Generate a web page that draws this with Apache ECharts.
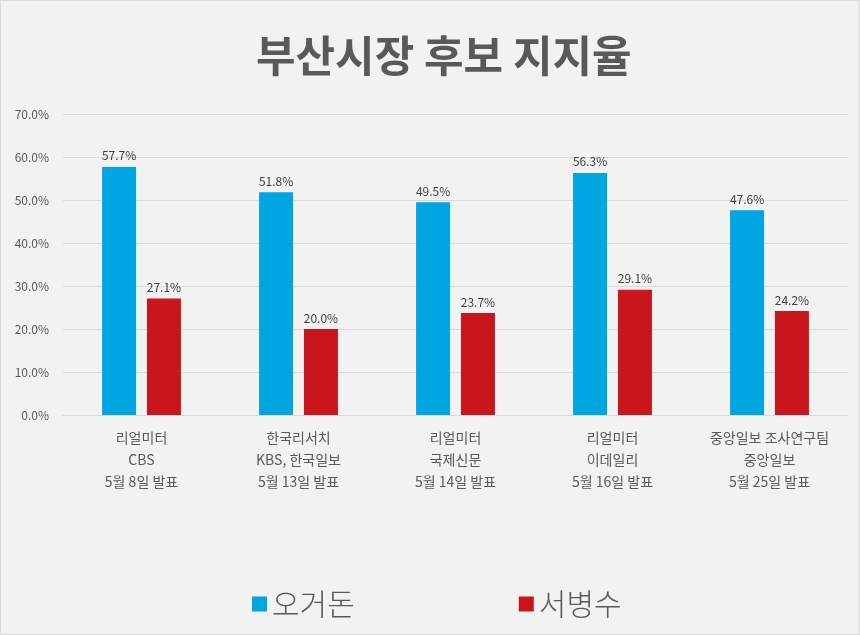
<!DOCTYPE html>
<html>
<head>
<meta charset="utf-8">
<script src="https://cdn.jsdelivr.net/npm/echarts@6/dist/echarts.min.js"></script>
<style>
  html, body { margin: 0; padding: 0; background: #f2f2f2; }
  #chart { width: 858px; height: 633px; border: 1px solid #d9d9d9; }
</style>
</head>
<body>
<div id="chart"></div>
<script>
const categories = [
    '리얼미터\nCBS\n5월 8일 발표',
    '한국리서치\nKBS, 한국일보\n5월 13일 발표',
    '리얼미터\n국제신문\n5월 14일 발표',
    '리얼미터\n이데일리\n5월 16일 발표',
    '중앙일보 조사연구팀\n중앙일보\n5월 25일 발표'
];
const ohGeodon = [57.7, 51.8, 49.5, 56.3, 47.6];
const seoByeongsu = [27.1, 20.0, 23.7, 29.1, 24.2];

const font = '"Noto Sans CJK KR", "Noto Sans", sans-serif';

let myChart = echarts.init(document.getElementById('chart'));
const option = {
    backgroundColor: '#f2f2f2',
    animation: false,
    title: {
        text: '부산시장 후보 지지율',
        left: 250,
        top: 28,
        textStyle: {
            color: '#595959',
            fontSize: 43,
            fontWeight: 'bold',
            fontFamily: font
        }
    },
    legend: {
        left: 246,
        top: 583,
        icon: 'rect',
        itemWidth: 15,
        itemHeight: 15,
        itemGap: 164,
        textStyle: {
            color: '#595959',
            fontSize: 30,
            fontWeight: 300,
            fontFamily: font
        }
    },
    grid: {
        left: 62,
        right: 11,
        top: 113,
        bottom: 219
    },
    xAxis: {
        type: 'category',
        data: categories,
        axisTick: { show: false },
        axisLine: { lineStyle: { color: '#d9d9d9' } },
        axisLabel: {
            interval: 0,
            color: '#595959',
            fontSize: 14,
            lineHeight: 22,
            margin: 12,
            fontFamily: font
        }
    },
    yAxis: {
        type: 'value',
        min: 0,
        max: 70,
        interval: 10,
        axisLabel: {
            color: '#595959',
            fontSize: 12,
            margin: 14,
            fontFamily: font,
            formatter: v => v.toFixed(1) + '%'
        },
        splitLine: { lineStyle: { color: '#d9d9d9' } }
    },
    series: [
        {
            name: '오거돈',
            type: 'bar',
            data: ohGeodon,
            barWidth: 34,
            barGap: '32%',
            itemStyle: { color: '#00a6e2' },
            label: {
                show: true,
                position: 'top',
                color: '#404040',
                fontSize: 12,
                fontFamily: font,
                formatter: p => p.value.toFixed(1) + '%'
            }
        },
        {
            name: '서병수',
            type: 'bar',
            data: seoByeongsu,
            barWidth: 34,
            itemStyle: { color: '#c9161d' },
            label: {
                show: true,
                position: 'top',
                color: '#404040',
                fontSize: 12,
                fontFamily: font,
                formatter: p => p.value.toFixed(1) + '%'
            }
        }
    ]
};
myChart.setOption(option);
</script>
</body>
</html>
